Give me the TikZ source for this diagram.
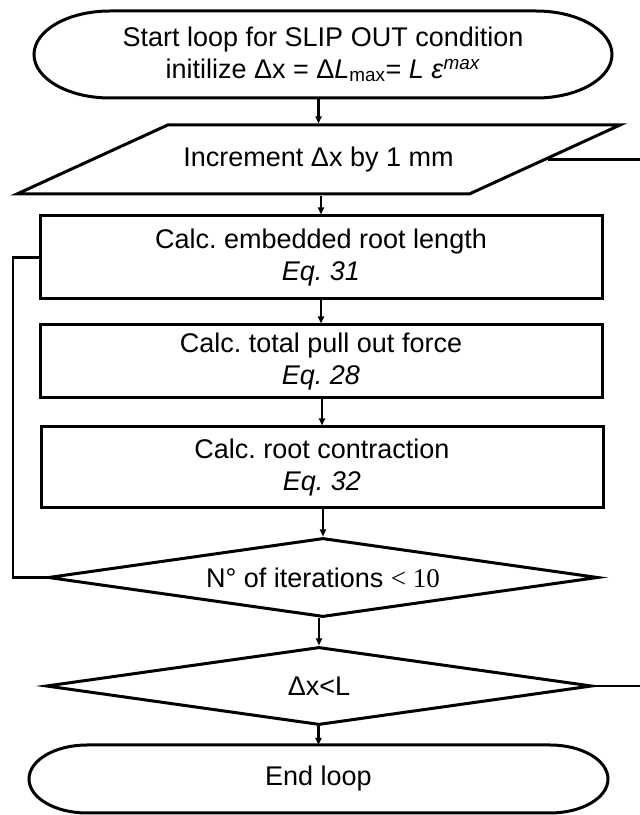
\documentclass[tikz,border=0pt]{standalone}
\usepackage{fontspec}
\setmainfont{Liberation Sans}
\newfontfamily\numserif{Liberation Serif}
\usetikzlibrary{shapes.geometric,arrows.meta,calc}
\frenchspacing

% outline of a start/end block: straight top and bottom, elliptic ends
\newcommand\termoutline[2]{%
  \draw[outline] let \p1=(#1.north west), \p2=(#1.south east),
      \n1={(\y1-\y2)/2} in
    (\x1+#2pt,\y1) -- (\x2-#2pt,\y1)
    arc[start angle=90, end angle=-90, x radius=#2pt, y radius=\n1]
    -- (\x1+#2pt,\y2)
    arc[start angle=270, end angle=90, x radius=#2pt, y radius=\n1]
    -- cycle;}

\begin{document}
\begin{tikzpicture}[x=1pt, y=1pt,
  font=\fontsize{27}{31.5}\selectfont\frenchspacing,
  outline/.style={line width=3pt, line join=miter},
  terminalbox/.style={rectangle, inner sep=0pt, outer sep=0pt, align=center},
  process/.style={draw, rectangle, line width=3pt, minimum width=562pt,
    inner sep=0pt, align=center},
  io/.style={draw, trapezium, line width=3pt, trapezium left angle=24.6,
    trapezium right angle=155.4, trapezium stretches body,
    minimum width=603pt, inner xsep=4pt, text height=21pt, text depth=6pt,
    inner ysep=21pt},
  decision/.style={draw, diamond, aspect=7, line width=3pt, inner sep=0pt},
  link/.style={line width=2.5pt},
  flow/.style={link, -{Triangle[length=7pt, width=6pt]}}]

\useasboundingbox (0,0) rectangle (640,815);

% blocks
\node[terminalbox, minimum width=578pt, minimum height=87pt] (start) at (323,760.5)
  {Start loop for SLIP OUT condition\\
   initilize Δx = Δ\textit{L}\textsubscript{max}= \textit{L ε}\textsuperscript{\textit{max}}};
\termoutline{start}{76}

\node[io] (inc) at (318.5,655.5) {Increment Δx by 1 mm};

\node[process, minimum height=83pt] (b1) at (321,557.5)
  {Calc. embedded root length\\\textit{Eq. 31}};
\node[process, minimum height=73pt] (b2) at (321,453.5)
  {Calc. total pull out force\\\textit{Eq. 28}};
\node[process, minimum height=81pt] (b3) at (322,347.5)
  {Calc. root contraction\\\textit{Eq. 32}};

\node[decision, minimum width=550pt, minimum height=79pt] (d1) at (323,237.5)
  {N° of iterations {\numserif< 10}};
\node[decision, minimum width=546pt, minimum height=78pt] (d2) at (319,129)
  {Δx<L};

\node[terminalbox, minimum width=579pt, minimum height=68pt] (end) at (318.5,36)
  {End loop};
\termoutline{end}{58}

% ends of the loop lines at the left and right
\coordinate (leftrail) at (13,0);
\coordinate (rightedge) at (640,0);

% main flow
\draw[flow] (start.south -| inc.north) -- (inc.north);
\draw[flow] (inc.south -| b1.north) -- (b1.north);
\draw[flow] (b1.south) -- (b2.north);
\draw[flow] (b2.south -| b3.north) -- (b3.north);
\draw[flow] (b3.south -| d1.north) -- (d1.north);
\draw[flow] (d1.south -| d2.north) -- (d2.north);
\draw[flow] (d2.south -| end.north) -- (end.north);

% iteration loop back to the first calculation
\draw[link, line join=miter] (d1.west) -- (d1.west -| leftrail) |- (b1.west);

% branches leaving to the right
\draw[link] (inc.east) -- (inc.east -| rightedge);
\draw[link] (d2.east) -- (d2.east -| rightedge);
\end{tikzpicture}
\end{document}
